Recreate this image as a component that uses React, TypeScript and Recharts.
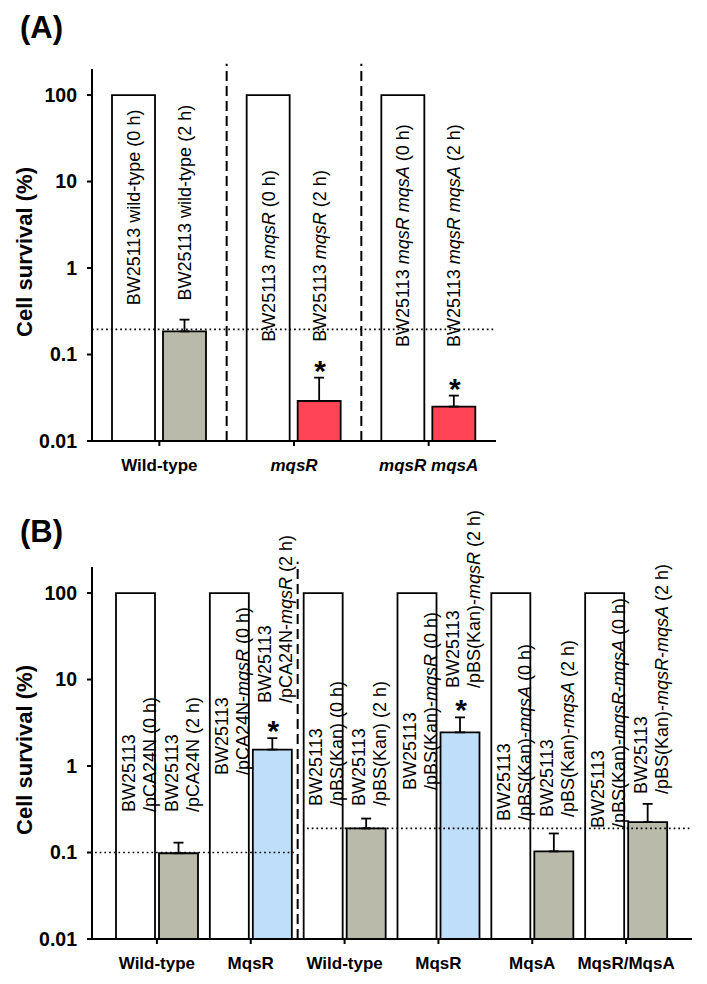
import React from 'react';
import { ComposedChart, Bar, XAxis, YAxis, ErrorBar, LabelList, Cell, ReferenceLine } from 'recharts';

const FONT = "'Liberation Sans', Arial, Helvetica, sans-serif";

// shared y axis
const yTicks = [0.01, 0.1, 1, 10, 100];
const yTickLabels = ['0.01', '0.1', '1', '10', '100'];
const Y_MIN = 0.01;
const Y_MAX = 200;
const DIVIDER_TOP = 230;
const yAxisTitle = 'Cell survival (%)';

// Panel A
const aCategories = ['Wild-type', 'mqsR', 'mqsR mqsA'];
const aSurvival0h = [100, 100, 100];
const aSurvival2h = [0.185, 0.029, 0.025];
const aError2h = [0.068, 0.025, 0.0085];
const aSignificant = [false, true, true];
const aFill2h = ['#BABAAA', '#FF4455', '#FF4455'];
const aLabels0h = ['BW25113 wild-type (0 h)', 'BW25113 mqsR (0 h)', 'BW25113 mqsR mqsA (0 h)'];
const aLabels2h = ['BW25113 wild-type (2 h)', 'BW25113 mqsR (2 h)', 'BW25113 mqsR mqsA (2 h)'];
const aLabelStart0h = [0.37, 0.14, 0.122];
const aLabelStart2h = [0.42, 0.14, 0.122];
const aReferenceLevels = [{ value: 0.195, from: 0, to: 2.98 }];
const aDividers = [1, 2];

// Panel B
const bCategories = ['Wild-type', 'MqsR', 'Wild-type', 'MqsR', 'MqsA', 'MqsR/MqsA'];
const bSurvival0h = [100, 100, 100, 100, 100, 100];
const bSurvival2h = [0.098, 1.55, 0.19, 2.45, 0.103, 0.225];
const bError2h = [0.032, 0.55, 0.057, 1.2, 0.063, 0.14];
const bSignificant = [false, true, false, true, false, false];
const bFill2h = ['#BABAAA', '#BEDEFA', '#BABAAA', '#BEDEFA', '#BABAAA', '#BABAAA'];
const bLabels0h = [
  'BW25113\n/pCA24N (0 h)',
  'BW25113\n/pCA24N-mqsR (0 h)',
  'BW25113\n/pBS(Kan) (0 h)',
  'BW25113\n/pBS(Kan)-mqsR (0 h)',
  'BW25113\n/pBS(Kan)-mqsA (0 h)',
  'BW25113\n/pBS(Kan)-mqsR-mqsA (0 h)',
];
const bLabels2h = [
  'BW25113\n/pCA24N (2 h)',
  'BW25113\n/pCA24N-mqsR (2 h)',
  'BW25113\n/pBS(Kan) (2 h)',
  'BW25113\n/pBS(Kan)-mqsR (2 h)',
  'BW25113\n/pBS(Kan)-mqsA (2 h)',
  'BW25113\n/pBS(Kan)-mqsR-mqsA (2 h)',
];
const bLabelStart0h = [0.294, 0.787, 0.345, 0.528, 0.231, 0.192];
const bLabelStart2h = [0.294, 5.35, 0.345, 7.97, 0.257, 0.475];
const bReferenceLevels = [
  { value: 0.1, from: -0.16, to: 1.98 },
  { value: 0.19, from: 2.1, to: 6.2 },
];
const bDividers = [2];

const AX = { stroke: '#000', strokeWidth: 2 };

function richSpans(text: string) {
  return text
    .split(/(mqsR|mqsA)/)
    .filter((s) => s.length > 0)
    .map((s, i) => (
      <tspan key={i} fontStyle={/^mqs[RA]$/.test(s) ? 'italic' : 'normal'}>
        {s}
      </tspan>
    ));
}

const makeLabelContent =
  (texts: string[], starts: number[], values: number[], errors?: number[], marks?: boolean[]) =>
  (props: any) => {
    const vb = props.viewBox || props;
    const idx = props.index;
    if (idx == null || !vb) return null;
    const { x, y, width, height } = vb;
    const v = values[idx];
    const bottom = y + height;
    const perDecade = height / Math.log10(v / Y_MIN);
    const toY = (val: number) => bottom - perDecade * Math.log10(val / Y_MIN);
    const cx = x + width / 2;
    const lines = texts[idx].split('\n');
    const startY = toY(starts[idx]);
    return (
      <g>
        <g transform={`translate(${cx},${startY}) rotate(-90)`}>
          {lines.map((ln, i) => (
            <text
              key={i}
              x={0}
              y={lines.length === 1 ? 6.5 : -1 + i * 21}
              fontFamily={FONT}
              fontSize={18}
              fill="#000"
              textAnchor="start"
            >
              {richSpans(ln)}
            </text>
          ))}
        </g>
        {marks && errors && marks[idx] ? (
          <text
            x={cx + 1}
            y={toY(v + errors[idx]) - 14 + 17}
            textAnchor="middle"
            fontFamily={FONT}
            fontWeight="bold"
            fontSize={30}
            fill="#000"
          >
            *
          </text>
        ) : null}
      </g>
    );
  };

const CatTick = (props: any) => {
  const { x, y, payload, names } = props;
  const name = names[Number(payload.value)] ?? '';
  return (
    <text x={x} y={y + 25} textAnchor="middle" fontFamily={FONT} fontWeight="bold" fontSize={17} fill="#000">
      {richSpans(name)}
    </text>
  );
};

const renderAxisTitle = (p: any) => {
  const vb = p.viewBox || { y: 0, height: 0 };
  const cy = vb.y + vb.height / 2 - 3;
  return (
    <text
      transform={`translate(32,${cy}) rotate(-90)`}
      textAnchor="middle"
      fontFamily={FONT}
      fontWeight="bold"
      fontSize={22}
      fill="#000"
    >
      {yAxisTitle}
    </text>
  );
};

type PanelProps = {
  top: number;
  height: number;
  margin: { top: number; right: number; bottom: number; left: number };
  padding: { left: number; right: number };
  categories: string[];
  s0: number[];
  s2: number[];
  err: number[];
  sig: boolean[];
  fill2: string[];
  labels0: string[];
  labels2: string[];
  start0: number[];
  start2: number[];
  levels: { value: number; from: number; to: number }[];
  dividers: number[];
  barCategoryGap: number;
  barGap: number;
};

function Panel(p: PanelProps) {
  const data = p.categories.map((c, i) => ({
    id: String(i),
    slot: i,
    name: c,
    s0: p.s0[i],
    s2: p.s2[i],
    err: [0, p.err[i]],
  }));
  return (
    <div style={{ position: 'absolute', left: 0, top: p.top, width: 707, height: p.height }}>
      <ComposedChart
        width={707}
        height={p.height}
        data={data}
        margin={p.margin}
        barCategoryGap={p.barCategoryGap}
        barGap={p.barGap}
      >
        <XAxis
          dataKey="id"
          type="category"
          height={40}
          padding={p.padding}
          axisLine={AX}
          tickLine={AX}
          tickSize={5}
          tickMargin={0}
          interval={0}
          tick={<CatTick names={p.categories} />}
        />
        <XAxis
          xAxisId="pos"
          dataKey="slot"
          type="number"
          domain={[0, p.categories.length]}
          allowDataOverflow
          hide
          padding={p.padding}
        />
        <YAxis
          type="number"
          scale="log"
          domain={[Y_MIN, Y_MAX]}
          allowDataOverflow
          ticks={yTicks}
          interval={0}
          width={92}
          axisLine={AX}
          tickLine={AX}
          tickSize={5}
          tickMargin={10}
          tick={{ fill: '#000', fontSize: 19.5, fontWeight: 'bold', fontFamily: FONT }}
          tickFormatter={(v: number) => {
            const k = yTicks.indexOf(v);
            return k >= 0 ? yTickLabels[k] : String(v);
          }}
          label={renderAxisTitle}
        />
        <Bar dataKey="s0" fill="#FFFFFF" stroke="#000" strokeWidth={1.8} isAnimationActive={false}>
          <LabelList dataKey="s0" content={makeLabelContent(p.labels0, p.start0, p.s0)} />
        </Bar>
        <Bar dataKey="s2" stroke="#000" strokeWidth={1.8} isAnimationActive={false}>
          {data.map((d, i) => (
            <Cell key={d.id} fill={p.fill2[i]} />
          ))}
          <ErrorBar dataKey="err" width={5} stroke="#000" strokeWidth={1.8} direction="y" />
          <LabelList dataKey="s2" content={makeLabelContent(p.labels2, p.start2, p.s2, p.err, p.sig)} />
        </Bar>
        {p.dividers.map((d) => (
          <ReferenceLine
            key={`div-${d}`}
            xAxisId="pos"
            segment={[
              { x: d, y: Y_MIN },
              { x: d, y: DIVIDER_TOP },
            ]}
            ifOverflow="visible"
            stroke="#000"
            strokeWidth={2}
            strokeDasharray="10 5"
          />
        ))}
        {p.levels.map((l, i) => (
          <ReferenceLine
            key={`lvl-${i}`}
            xAxisId="pos"
            segment={[
              { x: l.from, y: l.value },
              { x: l.to, y: l.value },
            ]}
            ifOverflow="visible"
            stroke="#000"
            strokeWidth={1.7}
            strokeDasharray="1.7 3"
          />
        ))}
      </ComposedChart>
    </div>
  );
}

export default function App() {
  return (
    <div style={{ position: 'absolute', left: 0, top: 0, width: 707, height: 984, background: '#fff' }}>
      <Panel
        top={0}
        height={490}
        margin={{ top: 69, right: 211, bottom: 9, left: 0 }}
        padding={{ left: 0, right: 0 }}
        categories={aCategories}
        s0={aSurvival0h}
        s2={aSurvival2h}
        err={aError2h}
        sig={aSignificant}
        fill2={aFill2h}
        labels0={aLabels0h}
        labels2={aLabels2h}
        start0={aLabelStart0h}
        start2={aLabelStart2h}
        levels={aReferenceLevels}
        dividers={aDividers}
        barCategoryGap={20}
        barGap={8}
      />
      <Panel
        top={490}
        height={494}
        margin={{ top: 77, right: 15, bottom: 5, left: 0 }}
        padding={{ left: 18, right: 19 }}
        categories={bCategories}
        s0={bSurvival0h}
        s2={bSurvival2h}
        err={bError2h}
        sig={bSignificant}
        fill2={bFill2h}
        labels0={bLabels0h}
        labels2={bLabels2h}
        start0={bLabelStart0h}
        start2={bLabelStart2h}
        levels={bReferenceLevels}
        dividers={bDividers}
        barCategoryGap={6}
        barGap={4}
      />
      <svg
        width={707}
        height={984}
        style={{ position: 'absolute', left: 0, top: 0, pointerEvents: 'none' }}
      >
        <text x={20} y={38} fontFamily={FONT} fontWeight="bold" fontSize={31} fill="#000">
          (A)
        </text>
        <text x={20} y={542} fontFamily={FONT} fontWeight="bold" fontSize={31} fill="#000">
          (B)
        </text>
      </svg>
    </div>
  );
}
